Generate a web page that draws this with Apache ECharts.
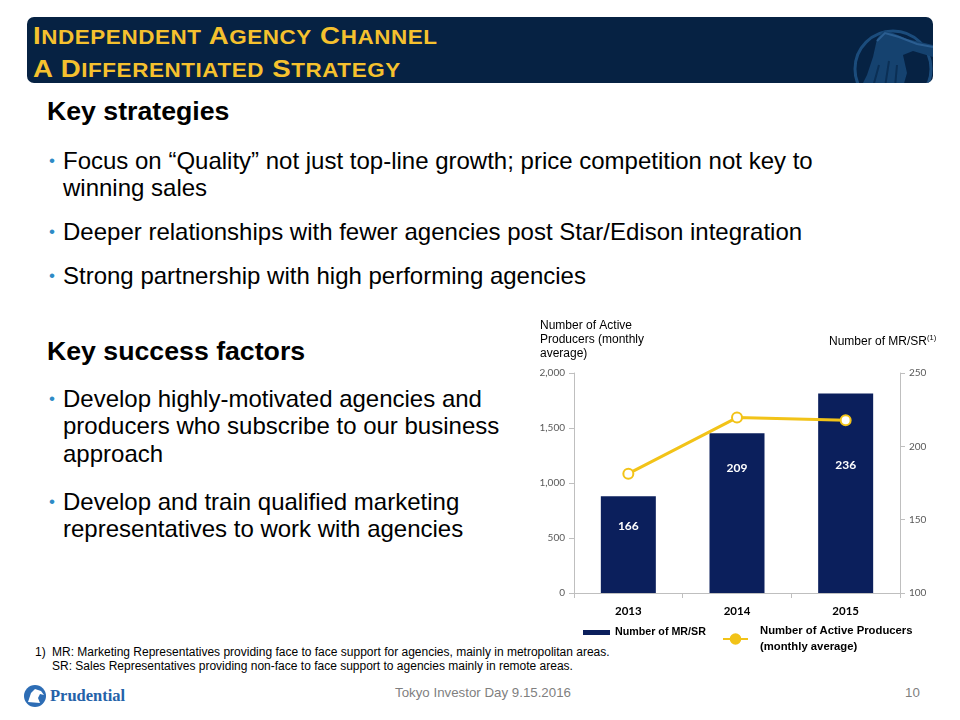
<!DOCTYPE html>
<html>
<head>
<meta charset="utf-8">
<script src="https://cdn.jsdelivr.net/npm/echarts@6/dist/echarts.min.js"></script>
<style>
  html, body { margin:0; padding:0; background:#fff; }
  #slide { position:relative; width:960px; height:720px; overflow:hidden; font-family:"Liberation Sans", Arial, sans-serif; color:#000; }
  #titlebar { position:absolute; left:27px; top:17px; width:906px; height:66px; background:#062243; border-radius:7px; overflow:hidden; }
  .tl { position:absolute; left:6px; font-weight:bold; color:#F5C12E; font-size:24px; line-height:33px; white-space:nowrap; letter-spacing:0.5px; transform:scaleX(1.15); transform-origin:0 0; }
  .tl .s { font-size:19.5px; }
  .hd { position:absolute; left:47px; font-weight:bold; font-size:26.7px; line-height:32px; white-space:nowrap; }
  .bl { position:absolute; left:63px; font-size:24px; line-height:27.3px; white-space:nowrap; }
  .bl::before { content:"\2022"; position:absolute; left:-14px; top:0; color:#2E8BC6; font-size:17px; }
  #foot { position:absolute; left:35px; top:645px; font-size:12px; line-height:14px; white-space:nowrap; }
  #foot .n { position:absolute; left:0; }
  #foot .t { margin-left:17px; }
  #footer { position:absolute; left:0; width:966px; text-align:center; top:685px; font-size:13.3px; color:#7F7F7F; }
  #pgnum { position:absolute; left:905px; top:685px; font-size:13.3px; color:#7F7F7F; }
  #chart { position:absolute; left:0; top:0; width:960px; height:720px; }
</style>
</head>
<body>
<div id="slide">
  <div id="titlebar">
    <svg width="906" height="66" style="position:absolute;left:0;top:0">
      <circle cx="866" cy="52" r="38" fill="none" stroke="#1B4C7C" stroke-width="3"/>
      <path d="M834,70 L840,58 L846,40 L850,22 L856,14 L866,16 L880,22 L906,28 L906,40 L886,34 L876,38 L880,56 L876,70 Z" fill="#15426F"/>
      <path d="M850,24 L858,16 L872,20 L890,27 L906,30" fill="none" stroke="#2B5E91" stroke-width="2"/>
      <path d="M846,70 L852,48 M858,70 L862,44 M868,70 L870,48" fill="none" stroke="#0B2F55" stroke-width="2"/>
    </svg>
    <div class="tl" style="top:1.5px">I<span class="s">NDEPENDENT</span> A<span class="s">GENCY</span> C<span class="s">HANNEL</span></div>
    <div class="tl" style="top:34.5px">A D<span class="s">IFFERENTIATED</span> S<span class="s">TRATEGY</span></div>
  </div>

  <div class="hd" style="top:95px">Key strategies</div>
  <div class="bl" style="top:147px">Focus on “Quality” not just top-line growth; price competition not key to<br>winning sales</div>
  <div class="bl" style="top:218px">Deeper relationships with fewer agencies post Star/Edison integration</div>
  <div class="bl" style="top:262px">Strong partnership with high performing agencies</div>

  <div class="hd" style="top:335px">Key success factors</div>
  <div class="bl" style="top:385px">Develop highly-motivated agencies and<br>producers who subscribe to our business<br>approach</div>
  <div class="bl" style="top:488px">Develop and train qualified marketing<br>representatives to work with agencies</div>

  <div id="foot"><span class="n">1)</span><div class="t">MR: Marketing Representatives providing face to face support for agencies, mainly in metropolitan areas.<br>SR: Sales Representatives providing non-face to face support to agencies mainly in remote areas.</div></div>

  <svg width="30" height="30" style="position:absolute;left:22px;top:682px">
    <circle cx="13" cy="14" r="11" fill="#2D6DB5"/>
    <path d="M6,20 L9,11 L13,7 L19,9 L22,13 L18,12 L16,16 L18,21 Z" fill="#fff"/>
  </svg>
  <div style="position:absolute;left:50px;top:686px;font-family:'Liberation Serif','DejaVu Serif',serif;font-weight:bold;font-size:16.5px;color:#2462A9;">Prudential</div>

  <div id="footer">Tokyo Investor Day 9.15.2016</div>
  <div id="pgnum">10</div>

  <div id="chart"></div>
</div>
<script>
// ---- data ----
const categories = ['2013', '2014', '2015'];
const mrsrCount = [166, 209, 236];                 // bars, right axis
const activeProducers = [1085, 1595, 1570];        // line, left axis
const leftAxisRange = [0, 2000, 500];              // min, max, interval
const rightAxisRange = [100, 250, 50];
const barSeriesName = 'Number of MR/SR';
const lineSeriesName = 'Number of Active Producers (monthly average)';

// ---- style (not data) ----
const barLabelDistance = [24, 29, 66];
const NAVY = '#0B1F5C';
const YELLOW = '#F2C318';
const AXIS = '#BFBFBF';
const TICKTXT = '#595959';

const chart = echarts.init(document.getElementById('chart'), null, { renderer: 'canvas' });

chart.setOption({
  backgroundColor: 'transparent',
  animation: false,
  grid: { left: 574, right: 60, top: 373, bottom: 127, containLabel: false },
  graphic: [
    { type: 'text', left: 540, top: 319,
      style: { text: 'Number of Active\nProducers (monthly\naverage)', font: '12px "Liberation Sans", Arial, sans-serif', fill: '#000', lineHeight: 14 } },
    { type: 'text', left: 829, top: 334,
      style: { text: '{a|Number of MR/SR}{b|(1)}', fill: '#000',
        rich: { a: { fontSize: 12, fontFamily: '"Liberation Sans", Arial, sans-serif', verticalAlign: 'bottom', lineHeight: 14 },
                b: { fontSize: 7.5, fontFamily: '"Liberation Sans", Arial, sans-serif', verticalAlign: 'top', padding: [0, 0, 6, 0] } } } }
  ],
  legend: [
    { data: [barSeriesName], left: 583, top: 627, padding: 0, icon: 'rect', itemWidth: 27, itemHeight: 5,
      textStyle: { fontFamily: '"Liberation Sans", Arial, sans-serif', fontWeight: 'bold', fontSize: 10.7, color: '#000' } },
    { data: [{ name: lineSeriesName, itemStyle: { color: YELLOW, borderColor: YELLOW } }], left: 722, top: 623, padding: 0,
      itemWidth: 25, itemHeight: 12,
      formatter: () => 'Number of Active Producers\n(monthly average)',
      textStyle: { fontFamily: '"Liberation Sans", Arial, sans-serif', fontWeight: 'bold', fontSize: 11.3, lineHeight: 16, color: '#000', padding: [0, 0, 0, 7] } }
  ],
  xAxis: {
    type: 'category', data: categories, boundaryGap: true,
    axisLine: { lineStyle: { color: AXIS, width: 1 } },
    axisTick: { show: true, length: 5, lineStyle: { color: AXIS } },
    axisLabel: { margin: 12, color: '#000', fontFamily: 'Lato, "Open Sans", sans-serif', fontWeight: 'bold', fontSize: 11.5 },
    splitLine: { show: false }
  },
  yAxis: [
    { type: 'value', position: 'left', min: leftAxisRange[0], max: leftAxisRange[1], interval: leftAxisRange[2],
      axisLine: { show: true, lineStyle: { color: AXIS } },
      axisTick: { show: true, length: 5, lineStyle: { color: AXIS } },
      axisLabel: { margin: 9, color: TICKTXT, fontFamily: 'Lato, "Open Sans", sans-serif', fontSize: 10,
        formatter: v => v.toLocaleString('en-US') },
      splitLine: { show: false } },
    { type: 'value', position: 'right', min: rightAxisRange[0], max: rightAxisRange[1], interval: rightAxisRange[2],
      startValue: rightAxisRange[0],
      axisLine: { show: true, lineStyle: { color: AXIS } },
      axisTick: { show: true, length: 5, lineStyle: { color: AXIS } },
      axisLabel: { margin: 9, color: TICKTXT, fontFamily: 'Lato, "Open Sans", sans-serif', fontSize: 10 },
      splitLine: { show: false } }
  ],
  series: [
    { name: barSeriesName, type: 'bar', yAxisIndex: 1, barWidth: 55, clip: true,
      itemStyle: { color: NAVY },
      data: mrsrCount.map((v, i) => ({ value: v, label: { distance: barLabelDistance[i] } })),
      label: { show: true, position: 'insideTop', color: '#fff', fontWeight: 'bold', fontSize: 12,
        fontFamily: 'Lato, "Open Sans", sans-serif' } },
    { name: lineSeriesName, type: 'line', yAxisIndex: 0, data: activeProducers,
      symbol: 'circle', symbolSize: 10, showSymbol: true,
      lineStyle: { color: YELLOW, width: 3 },
      itemStyle: { color: '#FFFFFF', borderColor: YELLOW, borderWidth: 2 },
      z: 5 }
  ]
});
</script>
</body>
</html>
